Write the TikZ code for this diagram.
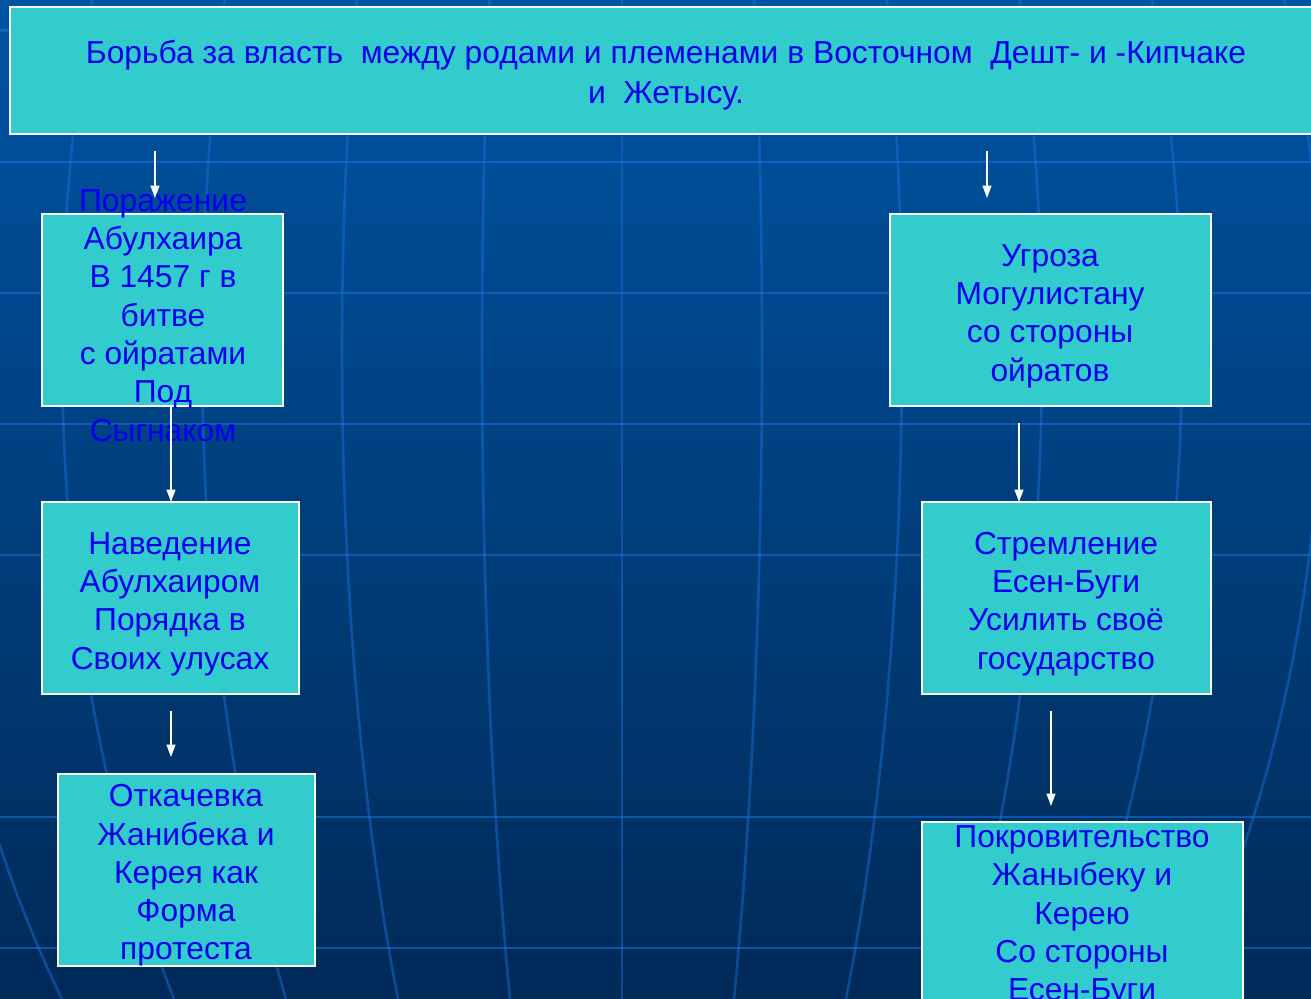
\documentclass[tikz,border=0pt]{standalone}
\usepackage{fontspec}
\setmainfont{Liberation Sans}
\usetikzlibrary{arrows.meta,shapes}
\usepackage{xcolor}

\definecolor{boxfill}{RGB}{51,204,204}
\definecolor{boxtext}{RGB}{0,0,240}
\definecolor{bgtop}{RGB}{0,84,164}
\definecolor{bgbottom}{RGB}{0,42,88}
\definecolor{gridline}{RGB}{25,115,225}

\begin{document}
\begin{tikzpicture}[x=0.02cm, y=0.02cm]
		\tikzstyle{every node}+=[inner sep=0pt]
		\tikzstyle{box}=[rectangle, draw=white, line width=1.2pt, fill=boxfill]
		\tikzstyle{txt}=[text=boxtext, align=center, font=\fontsize{18.1pt}{21.8pt}\selectfont]
		\tikzstyle{link}=[white, line width=0.85pt, -{Triangle[length=7pt,width=5pt]}]
		\tikzstyle{parallel}=[gridline, line width=1.7pt, opacity=0.55]
		\tikzstyle{meridian}=[gridline, line width=1.5pt, opacity=0.45]
		\useasboundingbox (0,0) rectangle (1311,-999);
		% background globe
		\shade [top color=bgtop, bottom color=bgbottom] (0,0) rectangle (1311,-999);
		\foreach \y in {31,162,293,424,555,817,948}
			\draw [parallel] (0,-\y) -- (1311,-\y);
		\foreach \a in {-700,-560,...,700}
			\draw [meridian] plot [domain=0:999, samples=40] ({622+\a*sqrt(1-((\x-350)/1082)^2)}, -\x);
		% boxes
		\node [box, minimum width=26.24cm, minimum height=2.54cm] (title) at (666,-70.5) {};
		\node [box, minimum width=4.82cm, minimum height=3.84cm] (defeat) at (162.5,-310) {};
		\node [box, minimum width=5.14cm, minimum height=3.84cm] (order) at (170.5,-598) {};
		\node [box, minimum width=5.14cm, minimum height=3.84cm] (migration) at (186.5,-870) {};
		\node [box, minimum width=6.42cm, minimum height=3.84cm] (threat) at (1050.5,-310) {};
		\node [box, minimum width=5.78cm, minimum height=3.84cm] (ambition) at (1066.5,-598) {};
		\node [box, minimum width=6.42cm, minimum height=3.84cm] (patronage) at (1082.5,-918) {};
		% texts
		\node [txt, font=\fontsize{18.1pt}{22.7pt}\selectfont] (title text) at (666,-75) {Борьба за власть \ между родами и племенами в Восточном \ Дешт- и -Кипчаке\\и \ Жетысу.};
		\node [txt] (defeat text) at (163,-315.5) {Поражение\\Абулхаира\\В 1457 г в\\битве\\с ойратами\\Под\\Сыгнаком};
		\node [txt] (order text) at (170,-604) {Наведение\\Абулхаиром\\Порядка в\\Своих улусах};
		\node [txt] (migration text) at (186,-875.5) {Откачевка\\Жанибека и\\Керея как\\Форма\\протеста};
		\node [txt] (threat text) at (1050,-316) {Угроза\\Могулистану\\со стороны\\ойратов};
		\node [txt] (ambition text) at (1066,-604) {Стремление\\Есен-Буги\\Усилить своё\\государство};
		\node [txt] (patronage text) at (1082,-916.5) {Покровительство\\Жаныбеку и\\Керею\\Со стороны\\Есен-Буги};
		% arrows
		\coordinate (t1) at (155,-151);
		\coordinate (d1) at (155,-198);
		\coordinate (t2) at (987,-151);
		\coordinate (th1) at (987,-198);
		\coordinate (d2) at (171,-406);
		\coordinate (o1) at (171,-502);
		\coordinate (th2) at (1019,-423);
		\coordinate (a1) at (1019,-502);
		\coordinate (o2) at (171,-711);
		\coordinate (m1) at (171,-757);
		\coordinate (a2) at (1051,-711);
		\coordinate (p1) at (1051,-806);
		\draw [link] (t1) -- (d1);
		\draw [link] (t2) -- (th1);
		\draw [link] (d2) -- (o1);
		\draw [link] (th2) -- (a1);
		\draw [link] (o2) -- (m1);
		\draw [link] (a2) -- (p1);
\end{tikzpicture}
\end{document}
